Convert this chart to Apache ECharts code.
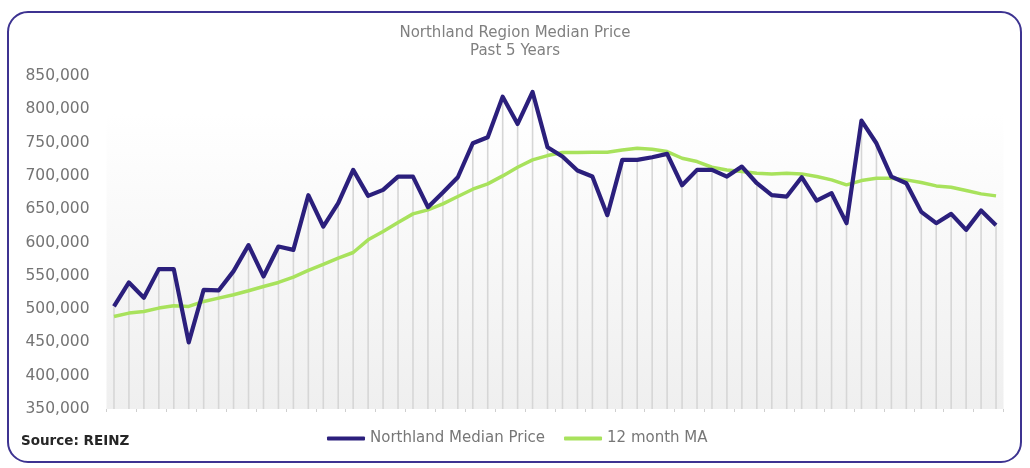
<!DOCTYPE html>
<html>
<head>
<meta charset="utf-8">
<style>
  html, body { margin: 0; padding: 0; background: #ffffff; }
  #chart { width: 1030px; height: 468px; }
</style>
<script src="https://cdn.jsdelivr.net/npm/echarts@6/dist/echarts.min.js"></script>
</head>
<body>
<div id="chart"></div>
<script>
// ---- Data ----
const titleLine1 = 'Northland Region Median Price';
const titleLine2 = 'Past 5 Years';
const sourceText = 'Source: REINZ';
const seriesNames = ['Northland Median Price', '12 month MA'];

const months = ['1','2','3','4','5','6','7','8','9','10','11','12','13','14','15','16','17','18','19','20',
  '21','22','23','24','25','26','27','28','29','30','31','32','33','34','35','36','37','38','39','40',
  '41','42','43','44','45','46','47','48','49','50','51','52','53','54','55','56','57','58','59','60'];

const medianPrice = [504000, 540000, 517000, 560000, 560000, 450000, 529000, 528000, 557000, 596000,
  549000, 594000, 589000, 671000, 624000, 659000, 709000, 670000, 679000, 699000,
  699000, 653000, 675000, 698000, 749000, 758000, 819000, 778000, 826000, 743000,
  729000, 708000, 699000, 641000, 724000, 724000, 728000, 733000, 686000, 709000,
  709000, 699000, 714000, 689000, 671000, 669000, 698000, 663000, 674000, 629000,
  783000, 749000, 699000, 689000, 646000, 629000, 643000, 619000, 648000, 626000];

const movingAvg = [489000, 494000, 496500, 501500, 505000, 504000, 511500, 516500, 521500, 527500,
  534000, 540000, 548000, 558000, 567000, 576500, 585000, 604000, 616500, 630000,
  643000, 649000, 658000, 669000, 680000, 688000, 700000, 713000, 724000, 730500,
  735000, 735000, 735500, 735500, 739000, 741500, 740000, 736500, 726500, 721500,
  713000, 709000, 706500, 704000, 703000, 704000, 703000, 699000, 694000, 686500,
  693000, 696500, 696500, 694000, 690000, 685000, 683000, 678000, 673000, 670000];

const yMin = 350000, yMax = 850000, yStep = 50000;

// ---- Chart ----
const chart = echarts.init(document.getElementById('chart'), null, { renderer: 'canvas' });
const FONT = 'DejaVu Sans';
const PURPLE = '#2b1f7c';
const GREEN = '#a8e25c';

chart.setOption({
  animation: false,
  backgroundColor: '#ffffff',
  textStyle: { fontFamily: FONT },
  title: {
    text: titleLine1 + '\n' + titleLine2,
    left: 'center',
    top: 19,
    textStyle: { fontFamily: FONT, fontSize: 15, fontWeight: 'normal', color: '#808080', lineHeight: 18 }
  },
  legend: {
    data: seriesNames,
    left: 327,
    top: 431,
    padding: 0,
    itemWidth: 38,
    itemHeight: 4,
    itemGap: 19,
    icon: 'roundRect',
    textStyle: { fontFamily: FONT, fontSize: 15, color: '#777777' }
  },
  graphic: [
    {
      type: 'rect',
      shape: { x: 8, y: 12, width: 1013, height: 450, r: 20 },
      style: { fill: 'none', stroke: '#3d3391', lineWidth: 2 },
      silent: true, z: 100
    },
    {
      type: 'text',
      left: 21,
      top: 434,
      style: { text: sourceText, font: 'bold 13.5px "DejaVu Sans"', fill: '#262626' },
      silent: true
    }
  ],
  grid: {
    left: 106.5,
    right: 26.5,
    top: 76,
    bottom: 59,
    show: true,
    borderWidth: 0,
    backgroundColor: {
      type: 'linear', x: 0, y: 0, x2: 0, y2: 1,
      colorStops: [
        { offset: 0, color: '#ffffff' },
        { offset: 0.11, color: '#ffffff' },
        { offset: 1, color: '#efefef' }
      ]
    }
  },
  xAxis: {
    type: 'category',
    data: months,
    boundaryGap: true,
    axisLine: { show: false },
    axisTick: { show: true, length: 3, lineStyle: { color: '#cfcfcf' } },
    axisLabel: { show: false },
    splitLine: { show: false }
  },
  yAxis: {
    type: 'value',
    min: yMin,
    max: yMax,
    interval: yStep,
    axisLine: { show: false },
    axisTick: { show: false },
    splitLine: { show: false },
    axisLabel: {
      margin: 17,
      fontFamily: FONT,
      fontSize: 15.5,
      color: '#747474',
      formatter: v => v.toLocaleString('en-US')
    }
  },
  series: [
    {
      name: 'drop',
      type: 'bar',
      data: medianPrice,
      barWidth: 1.6,
      itemStyle: { color: '#d6d6d6' },
      silent: true,
      clip: true,
      z: 1
    },
    {
      name: seriesNames[1],
      type: 'line',
      data: movingAvg,
      symbol: 'none',
      lineStyle: { color: GREEN, width: 3.5 },
      itemStyle: { color: GREEN },
      z: 2
    },
    {
      name: seriesNames[0],
      type: 'line',
      data: medianPrice,
      symbol: 'none',
      lineStyle: { color: PURPLE, width: 4.2, join: 'round' },
      itemStyle: { color: PURPLE },
      z: 3
    }
  ]
});
</script>
</body>
</html>
